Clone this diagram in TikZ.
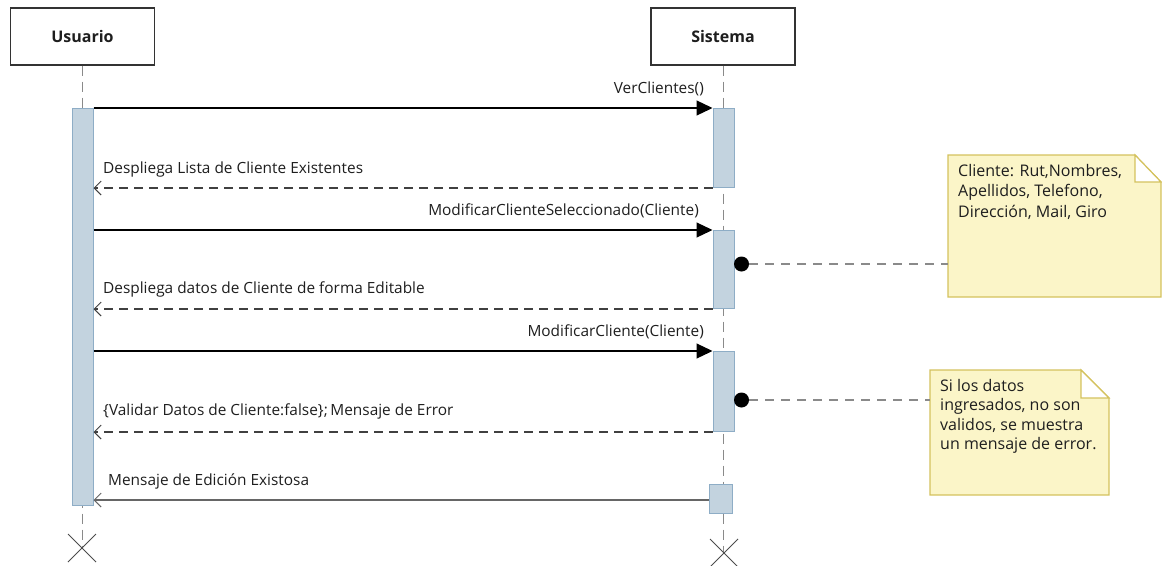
\documentclass[tikz,border=0pt]{standalone}
\usepackage{fontspec}
\setmainfont{Open Sans}
\usetikzlibrary{arrows.meta,calc}
\definecolor{actfill}{HTML}{C3D3DF}
\definecolor{actdraw}{HTML}{8EADC6}
\definecolor{notefill}{HTML}{FBF5C8}
\definecolor{notedraw}{HTML}{D4C25E}
\definecolor{lifegray}{HTML}{8A8A8A}
\definecolor{txt}{HTML}{1E1E1E}
\begin{document}
\begin{tikzpicture}[x=1pt,y=-1pt,
  part/.style={draw=black!80, line width=1.3pt, fill=white, minimum width=144, minimum height=57, font=\fontsize{16}{18}\selectfont\bfseries, text=txt},
  act/.style={draw=actdraw, fill=actfill, line width=1pt, inner sep=0pt},
  life/.style={draw=lifegray, line width=1pt, dash pattern=on 10pt off 6pt},
  lbl/.style={font=\fontsize{15.4}{18}\selectfont, inner sep=0pt, text=txt},
  sync/.style={draw=black, line width=1.2pt, -{Triangle[length=16pt,width=15pt]}},
  ret/.style={draw=black!75, line width=1.1pt, dash pattern=on 9pt off 6pt, -{Straight Barb[length=7pt,width=14pt,line width=1pt]}},
  retsolid/.style={draw=black!60, line width=2pt, -{Straight Barb[length=7pt,width=14pt,line width=1pt]}},
  notelink/.style={draw=lifegray, line width=1.5pt, dash pattern=on 9pt off 7pt},
  notebody/.style={fill=notefill, draw=notedraw, line width=1.2pt},
  notetxt/.style={inner sep=0pt, text=txt, align=left, anchor=base west},
  dot/.style={circle, fill=black, inner sep=0pt, minimum size=15},
  xmark/.style={draw=black!70, line width=1pt}
]
\useasboundingbox (0,0) rectangle (1162,565);

% participants
\node[part] (usr) at (82.5,36.5) {Usuario};
\node[part] (sys) at (723,36.5) {Sistema};

% end markers
\coordinate (ux) at (82,548);
\coordinate (sx) at (724,553);
\draw[life] (usr.south) -- (usr.south |- ux);
\draw[life] (sys.south) -- (sys.south |- sx);
\draw[xmark] ($(ux)+(-14,-14)$) -- ($(ux)+(14,14)$) ($(ux)+(-14,14)$) -- ($(ux)+(14,-14)$);
\draw[xmark] ($(sx)+(-14,-14)$) -- ($(sx)+(14,14)$) ($(sx)+(-14,14)$) -- ($(sx)+(14,-14)$);

% activations
\node[act, minimum width=21, minimum height=397, anchor=north] (ua) at (82.5,108) {};
\node[act, minimum width=21, minimum height=79, anchor=north] (sa1) at (723.5,108) {};
\node[act, minimum width=21, minimum height=78, anchor=north] (sa2) at (723.5,230) {};
\node[act, minimum width=21, minimum height=80, anchor=north] (sa3) at (723.5,351) {};
\node[act, minimum width=23, minimum height=29, anchor=north] (sa4) at (720.5,484) {};

% messages
\draw[sync] (ua.east |- sa1.north west) -- (sa1.north west);
\node[lbl, anchor=base east] (m1) at (704,93) {VerClientes()};

\draw[ret] (sa1.south west) -- (ua.east |- sa1.south west);
\node[lbl, anchor=base west] (m2) at (103,173) {Despliega Lista de Cliente Existentes};

\draw[sync] (ua.east |- sa2.north west) -- (sa2.north west);
\node[lbl, anchor=base east] (m3) at (699,215) {ModificarClienteSeleccionado(Cliente)};

\draw[ret] (sa2.south west) -- (ua.east |- sa2.south west);
\node[lbl, anchor=base west] (m4) at (103,293) {Despliega datos de Cliente de forma Editable};

\draw[sync] (ua.east |- sa3.north west) -- (sa3.north west);
\node[lbl, anchor=base east] (m5) at (704,336) {ModificarCliente(Cliente)};

\draw[ret] (sa3.south west) -- (ua.east |- sa3.south west);
\node[lbl, anchor=base west] (m6) at (103,415) {\{Validar Datos de Cliente:false\};\,Mensaje de Error};

\draw[retsolid] (sa4.west |- 0,500) -- (ua.east |- 0,500);
\node[lbl, anchor=base west] (m7) at (108,485) {Mensaje de Edición Existosa};

% note 1
\draw[notebody] (948,155) -- (1135,155) -- (1161,182) -- (1161,297) -- (948,297) -- cycle;
\draw[notedraw, line width=1.2pt, fill=white] (1135,155) -- (1135,182) -- (1161,182) -- cycle;
\coordinate (n1) at (948,264);
\node[notetxt, font=\fontsize{16}{20.5}\selectfont] (t1) at (958,217) {Cliente: Rut,Nombres,\\Apellidos, Telefono,\\Dirección, Mail, Giro};
\node[dot] (d1) at (741.5,264) {};
\draw[notelink] (d1.east) -- (n1);

% note 2
\draw[notebody] (930,370) -- (1081,370) -- (1109,398) -- (1109,495) -- (930,495) -- cycle;
\draw[notedraw, line width=1.2pt, fill=white] (1081,370) -- (1081,398) -- (1109,398) -- cycle;
\coordinate (n2) at (930,400);
\node[notetxt, font=\fontsize{16}{19.5}\selectfont] (t2) at (940,449.5) {Si los datos\\ingresados, no son\\validos, se muestra\\un mensaje de error.};
\node[dot] (d2) at (741.5,400) {};
\draw[notelink] (d2.east) -- (n2);
\end{tikzpicture}
\end{document}
